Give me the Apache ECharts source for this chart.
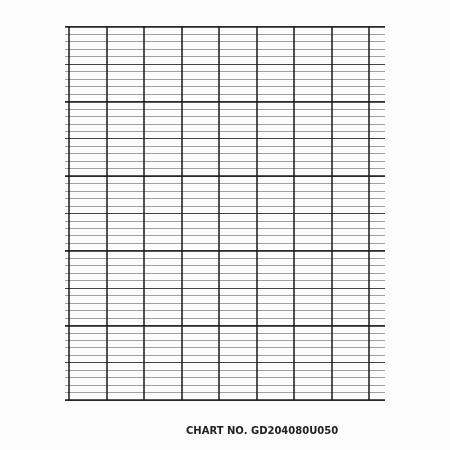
<!DOCTYPE html><html><head><meta charset="utf-8"><script src="https://cdn.jsdelivr.net/npm/echarts@6/dist/echarts.min.js"></script>
<style>body{margin:0;background:#fff}#c{width:450px;height:450px}</style></head><body><div id="c"></div><script>
const verticalDivisions = 8;
const minorRows = 50;
const majorEvery = 5;
const boldEvery = 10;
const chartLabel = "CHART NO. GD204080U050";
const c = echarts.init(document.getElementById('c'));
const T = 26.7, H = 373.3;
function yAx(i, interval, color, width){return {gridIndex:i,type:'value',min:0,max:minorRows,interval:interval,inverse:true,axisLine:{show:false},axisTick:{show:false},axisLabel:{show:false},splitLine:{show:true,lineStyle:{color:color,width:width}}};}
function xHidden(i){return {gridIndex:i,type:'value',min:0,max:1,show:false,splitLine:{show:false}};}
c.setOption({
  backgroundColor:'#fcfcfc',
  animation:false,
  grid:[
    {left:65,width:320,top:T,height:H},
    {left:65,width:320,top:T,height:H},
    {left:65,width:320,top:T,height:H},
    {left:69,width:300,top:T,height:H}
  ],
  xAxis:[xHidden(0),xHidden(1),xHidden(2),
    {gridIndex:3,type:'value',min:0,max:verticalDivisions,interval:1,axisLine:{show:false},axisTick:{show:false},axisLabel:{show:false},splitLine:{show:true,lineStyle:{color:'#1a1a1a',width:1.5}}}],
  yAxis:[yAx(0,1,'#a0a0a0',1.2),yAx(1,majorEvery,'#444',1.2),yAx(2,boldEvery,'#222',1.6),
    {gridIndex:3,type:'value',min:0,max:1,show:false,splitLine:{show:false}}],
  series:[],
  graphic:[{type:'text',left:186,top:426,style:{text:chartLabel,font:'bold 10px "DejaVu Sans", sans-serif',fill:'#222'}}]
});
</script></body></html>
